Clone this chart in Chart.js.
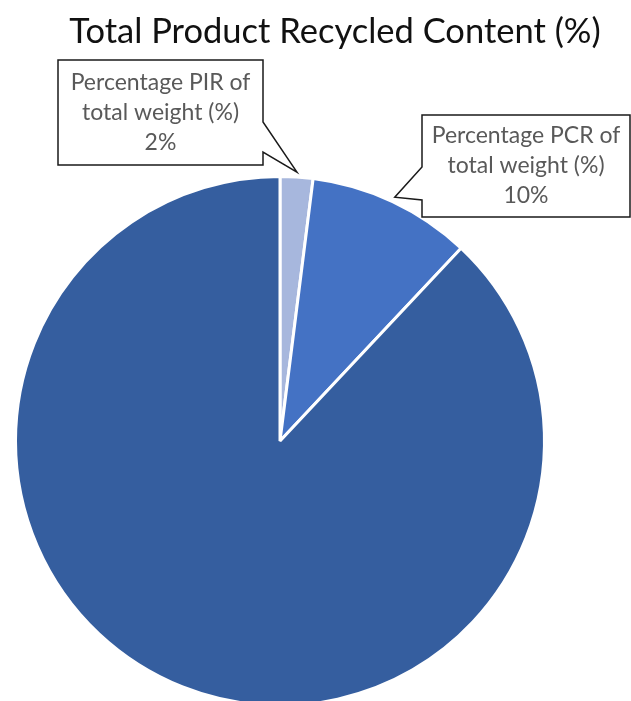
<!DOCTYPE html>
<html>
<head>
<meta charset="utf-8">
<script src="https://cdn.jsdelivr.net/npm/chart.js@4.4.1/dist/chart.umd.min.js"></script>
<style>
    html, body { margin: 0; padding: 0; background: #fff; overflow: hidden; }
    #wrap { position: relative; width: 631px; height: 720px; }
</style>
</head>
<body>
<div id="wrap"><canvas id="pieChart"></canvas></div>
<script>
// 数据
const labels = ['Percentage PIR of total weight (%)', 'Percentage PCR of total weight (%)', 'Virgin content'];
const values = [2, 10, 88];
const colors = ['#a7b7dd', '#4472c4', '#355e9f'];
// 标注：哪一块有标签、标签文字行
const calloutLines = [
    ['Percentage PIR of', 'total weight (%)', '2%'],
    ['Percentage PCR of', 'total weight (%)', '10%'],
    null
];

// 标注框位置（像素）
const calloutBoxes = [
    { x: 58, y: 60, w: 205, h: 105, side: 'right', tailTop: 122, tailBottom: 152 },
    { x: 422, y: 115, w: 208, h: 102, side: 'left', tailTop: 167, tailBottom: 200 },
    null
];

const titlePlugin = {
    id: 'pieTitle',
    afterDraw(chart) {
        const ctx = chart.ctx;
        ctx.save();
        ctx.fillStyle = '#111';
        ctx.font = '34.5px Lato';
        ctx.textAlign = 'center';
        ctx.textBaseline = 'middle';
        ctx.fillText('Total Product Recycled Content (%)', 335, 32);
        ctx.restore();
    }
};

const calloutPlugin = {
    id: 'callouts',
    afterDatasetsDraw(chart) {
        const ctx = chart.ctx;
        const arcs = chart.getDatasetMeta(0).data;
        arcs.forEach((arc, i) => {
            const box = calloutBoxes[i];
            if (!box) return;
            const mid = (arc.startAngle + arc.endAngle) / 2;
            const tipX = arc.x + Math.cos(mid) * (arc.outerRadius + 5);
            const tipY = arc.y + Math.sin(mid) * (arc.outerRadius + 5);
            const x0 = box.x, y0 = box.y, x1 = box.x + box.w, y1 = box.y + box.h;

            ctx.save();
            ctx.beginPath();
            ctx.moveTo(x0, y0);
            if (box.side === 'right') {
                ctx.lineTo(x1, y0);
                ctx.lineTo(x1, box.tailTop);
                ctx.lineTo(tipX, tipY);
                ctx.lineTo(x1, box.tailBottom);
                ctx.lineTo(x1, y1);
                ctx.lineTo(x0, y1);
            } else {
                ctx.lineTo(x1, y0);
                ctx.lineTo(x1, y1);
                ctx.lineTo(x0, y1);
                ctx.lineTo(x0, box.tailBottom);
                ctx.lineTo(tipX, tipY);
                ctx.lineTo(x0, box.tailTop);
            }
            ctx.closePath();
            ctx.fillStyle = '#fff';
            ctx.fill();
            ctx.strokeStyle = '#1a1a1a';
            ctx.lineWidth = 1.5;
            ctx.stroke();

            ctx.fillStyle = '#595959';
            ctx.font = '23px Lato';
            ctx.textAlign = 'center';
            ctx.textBaseline = 'middle';
            const cx = (x0 + x1) / 2;
            const lines = calloutLines[i];
            const step = 30;
            const startY = (y0 + y1) / 2 - step * (lines.length - 1) / 2;
            lines.forEach((t, k) => ctx.fillText(t, cx, startY + k * step));
            ctx.restore();
        });
    }
};

new Chart(document.getElementById('pieChart'), {
    type: 'pie',
    data: {
        labels: labels,
        datasets: [{
            data: values,
            backgroundColor: colors,
            borderColor: '#fff',
            borderWidth: 3
        }]
    },
    options: {
        responsive: true,
        maintainAspectRatio: false,
        animation: false,
        layout: {
            padding: { top: 175, bottom: 13, left: 0, right: 71 }
        },
        plugins: {
            legend: { display: false },
            tooltip: { enabled: false }
        }
    },
    plugins: [titlePlugin, calloutPlugin]
});
</script>
</body>
</html>
